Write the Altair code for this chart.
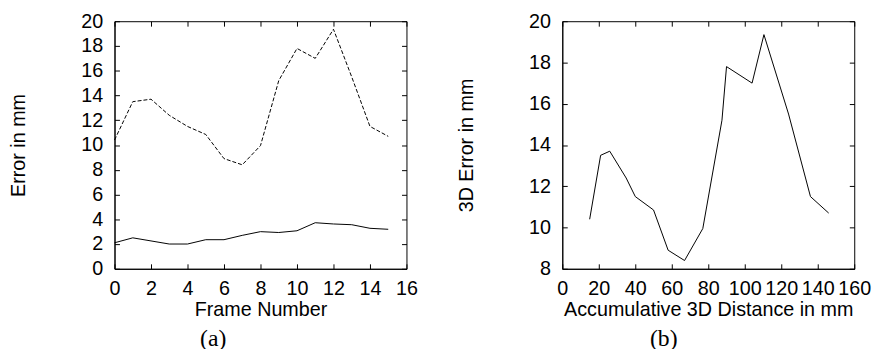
import altair as alt
import pandas as pd

# ---- data ----
frames = list(range(16))
err_3d = [10.4, 13.5, 13.7, 12.4, 11.5, 10.85, 8.9, 8.4, 9.95, 15.2, 17.8, 17.0, 19.35, 15.5, 11.5, 10.7]
err_other = [2.1, 2.5, 2.25, 2.0, 2.0, 2.35, 2.35, 2.7, 3.0, 2.93, 3.07, 3.72, 3.62, 3.56, 3.27, 3.19]
distance = [15, 21, 26, 35, 40, 50, 58, 67, 77, 87.5, 90, 104, 110.5, 124, 136, 146]

xticks_a = list(range(0, 17, 2))
yticks_a = list(range(0, 21, 2))
xticks_b = list(range(0, 161, 20))
yticks_b = list(range(8, 21, 2))

W, H = 296, 251
FONT = "Liberation Sans"
FS = 20

df_a = pd.DataFrame({"frame": frames, "e3d": err_3d, "eo": err_other})
df_b = pd.DataFrame({"dist": distance, "e3d": err_3d})


def xaxis(values, title):
    return alt.Axis(values=values, title=title, tickSize=0, grid=True,
                    gridDash=[5, H - 10, 5, 1000], gridColor="black", gridOpacity=1,
                    gridWidth=1, labelFlush=False, labelOverlap=False,
                    labelPadding=10, titlePadding=1, domainColor="black",
                    labelColor="black", titleColor="black", labelFont=FONT,
                    titleFont=FONT, labelFontSize=FS, titleFontSize=FS,
                    titleFontWeight="normal")


def yaxis(values, title):
    return alt.Axis(values=values, title=title, tickSize=0, grid=True,
                    gridDash=[5, W - 10, 5, 1000], gridColor="black", gridOpacity=1,
                    gridWidth=1, labelFlush=False, labelOverlap=False,
                    labelPadding=12, domainColor="black", labelColor="black",
                    titleColor="black", labelFont=FONT, titleFont=FONT,
                    labelFontSize=FS, titleFontSize=FS, titleFontWeight="normal",
                    titleX=-97, titleY=H / 2, titleBaseline="middle")


cap = dict(orient="bottom", font="Liberation Serif", fontSize=24,
           fontWeight="normal", color="black", frame="bounds", anchor="middle", offset=8)

xa = alt.X("frame:Q", scale=alt.Scale(domain=[0, 16], nice=False), axis=xaxis(xticks_a, "Frame Number"))
base_a = alt.Chart(df_a)
dashed = base_a.mark_line(color="black", strokeWidth=1, strokeDash=[4, 2]).encode(
    x=xa,
    y=alt.Y("e3d:Q", scale=alt.Scale(domain=[0, 20], nice=False), axis=yaxis(yticks_a, "Error in mm")),
)
solid = base_a.mark_line(color="black", strokeWidth=1).encode(
    x=xa,
    y=alt.Y("eo:Q", scale=alt.Scale(domain=[0, 20], nice=False), axis=yaxis(yticks_a, "Error in mm")),
)
left = alt.layer(dashed, solid).properties(
    width=W, height=H, title=alt.TitleParams("(a)", **cap)
)

right = alt.Chart(df_b).mark_line(color="black", strokeWidth=1).encode(
    x=alt.X("dist:Q", scale=alt.Scale(domain=[0, 160], nice=False),
            axis=xaxis(xticks_b, "Accumulative 3D Distance in mm")),
    y=alt.Y("e3d:Q", scale=alt.Scale(domain=[8, 20], nice=False), axis=yaxis(yticks_b, "3D Error in mm")),
).properties(width=W, height=H, title=alt.TitleParams("(b)", **cap))

chart = alt.hconcat(left, right, spacing=38).properties(padding=0).configure_view(
    stroke="black", strokeWidth=1
)

chart.save("out.html", embed_options={"renderer": "svg", "actions": False})
